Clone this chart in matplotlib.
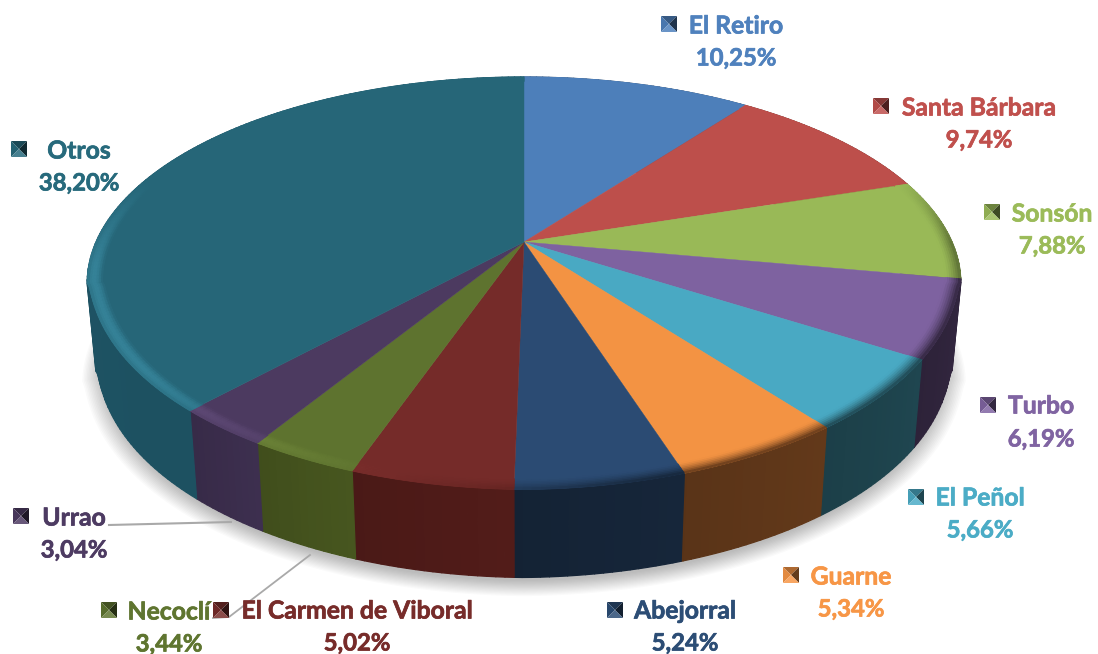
import numpy as np
import matplotlib
matplotlib.use('Agg')
from matplotlib import pyplot as plt
from matplotlib.patches import Polygon
from matplotlib.collections import PolyCollection
from matplotlib.colors import to_rgb
import matplotlib.patheffects as pe

# data
names = ['El Retiro', 'Santa Bárbara', 'Sonsón', 'Turbo', 'El Peñol', 'Guarne',
         'Abejorral', 'El Carmen de Viboral', 'Necoclí', 'Urrao', 'Otros']
shares = [10.25, 9.74, 7.88, 6.19, 5.66, 5.34, 5.24, 5.02, 3.44, 3.04, 38.20]
colors = ['#4f81bd', '#c0504d', '#9bbb59', '#8064a2', '#4bacc6', '#f79646',
          '#2c4d75', '#772c2a', '#5f7530', '#4d3b62', '#276a7c']
top_colors = ['#4d7fba', '#bd4f4b', '#99b957', '#7e62a0', '#49a9c3', '#f39343',
              '#2b4b73', '#752b29', '#5e732f', '#4c3a60', '#266678']
side_colors = ['#2f4c70', '#733029', '#5d7035', '#32263f', '#1f4650', '#63391a',
               '#16263a', '#521c19', '#47561f', '#3d2f4f', '#1f5667']

# label layout: marker centre, text centre x, first line y, second line y
marker_xy = [(669, 24), (881, 106), (992, 212), (988, 405), (916, 497), (791, 575),
             (615, 610), (221, 610), (109, 610), (21, 516), (19, 149)]
text_xy = [(736, 26, 58), (979, 108, 140), (1052, 214, 246), (1041, 406, 439),
           (980, 498, 530), (851, 577, 609), (685, 611, 643), (357, 611, 643),
           (169, 612, 644), (74, 518, 550), (79, 151, 183)]

# perspective of the pie disc
cx, cy = 524, 242
A, B, K = 428, 198, 0.2
depth = 88
low_scale = 0.98


def project(t, r=1.0):
    # t in degrees, clockwise from the top
    t = np.radians(t)
    x = r * np.sin(t)
    y = r * np.cos(t)
    w = 1 + K * y
    # the front corners of the real pie sit a little tighter than a true ellipse
    f = 1 - 0.016 * np.sin(np.pi * np.clip(-(np.cos(t) + 0.2) / 0.8, 0, 1)) ** 0.5
    return A * x / w * f, B * y / w * f


def top_xy(t, r=1.0):
    X, V = project(t, r)
    return cx + X, cy - V


def low_xy(t):
    X, V = project(t)
    return cx + X * low_scale, cy - V + depth


def blend(c1, c2, a):
    c1 = np.array(to_rgb(c1))
    c2 = np.array(to_rgb(c2))
    return tuple(c1 * (1 - a) + c2 * a)


def brighter(c):
    return tuple(np.minimum(1, np.array(to_rgb(c)) * 1.2 + 0.03))


fig = plt.figure(figsize=(10.98, 6.54), dpi=100)
ax = fig.add_axes([0, 0, 1, 1])
ax.set_xlim(0, 1098)
ax.set_ylim(654, 0)
ax.axis('off')

edges = np.concatenate([[0], np.cumsum(shares)]) * 3.6

# soft shadow under the pie
ts = np.linspace(0, 360, 361)
lx, ly = low_xy(ts)
for i in range(14):
    s = 1.032 - i * 0.0035
    sx = cx + (lx - cx) * s
    sy = cy + 8 + (ly - cy) * s
    ax.add_patch(Polygon(np.column_stack([sx, sy]), closed=True, fc='#000000',
                         ec='none', alpha=0.02, zorder=1))

# side walls
for i in range(len(shares)):
    t0, t1 = edges[i], edges[i + 1]
    t = np.arange(t0, t1 + 1.0, 1.0)
    t[-1] = t1
    polys = []
    cols = []
    for a, b in zip(t[:-1], t[1:]):
        xa, ya = top_xy(a)
        xb, yb = top_xy(b)
        xc, yc = low_xy(b)
        xd, yd = low_xy(a)
        polys.append([(xa, ya), (xb, yb), (xc, yc), (xd, yd)])
        # slight darkening toward the end of each slice
        f = (a - t0) / max(t1 - t0, 1)
        cols.append(blend(side_colors[i], '#000000', 0.10 * f if i != 10 else 0.06 * (1 - f)))
    ax.add_collection(PolyCollection(polys, facecolors=cols, edgecolors=cols,
                                     linewidths=0.9, zorder=2))

# top face
for i in range(len(shares)):
    t = np.linspace(edges[i], edges[i + 1], 200)
    x, y = top_xy(t)
    pts = np.column_stack([np.r_[cx, x], np.r_[cy, y]])
    ax.add_patch(Polygon(pts, closed=True, fc=top_colors[i], ec=top_colors[i], lw=0.3, zorder=3))

# bevel along the rim, lit from the lower left
radii = np.linspace(0.966, 1.0, 8)
for i in range(len(shares)):
    t0, t1 = edges[i], edges[i + 1]
    t = np.arange(t0, t1 + 1.0, 1.0)
    t[-1] = t1
    polys = []
    cols = []
    for a, b in zip(t[:-1], t[1:]):
        mid = np.radians((a + b) / 2)
        light = -np.sin(mid - np.radians(15)) * np.clip(0.5 - 1.5 * np.cos(mid), 0, 1)
        for r0, r1 in zip(radii[:-1], radii[1:]):
            p = (r0 + r1) / 2
            k = np.clip((p - radii[0]) / (1 - radii[0]), 0, 1)
            if light > 0:
                c = blend(top_colors[i], brighter(top_colors[i]), min(1, light * 1.6) * np.sin(k * np.pi * 0.85))
            else:
                c = blend(top_colors[i], side_colors[i], min(1, -light * 2.0) * k ** 1.5)
            xa, ya = top_xy(a, r0)
            xb, yb = top_xy(b, r0)
            xc, yc = top_xy(b, r1)
            xd, yd = top_xy(a, r1)
            polys.append([(xa, ya), (xb, yb), (xc, yc), (xd, yd)])
            cols.append(c)
    ax.add_collection(PolyCollection(polys, facecolors=cols, edgecolors=cols,
                                     linewidths=0.7, zorder=4))

# leader lines
ax.plot([109, 231], [525, 522], color='#a9a9a9', lw=1.5, zorder=5)
ax.plot([310, 229, 213], [555, 617, 618], color='#a9a9a9', lw=1.3, zorder=5)

# labels and pyramid legend keys
font = dict(family='Lato', weight='bold', ha='center', va='center', zorder=7)
for i in range(len(shares)):
    mx, my = marker_xy[i]
    h = 8
    c = colors[i]
    ax.add_patch(Polygon([(mx - h, my - h), (mx + h, my - h), (mx, my)], fc=blend(c, '#000000', 0.3), ec='none', zorder=6))
    ax.add_patch(Polygon([(mx - h, my - h), (mx - h, my + h), (mx, my)], fc=blend(c, '#000000', 0.08), ec='none', zorder=6))
    ax.add_patch(Polygon([(mx + h, my - h), (mx + h, my + h), (mx, my)], fc=blend(c, '#000000', 0.6), ec='none', zorder=6))
    ax.add_patch(Polygon([(mx - h, my + h), (mx + h, my + h), (mx, my)], fc=blend(c, '#ffffff', 0.15), ec='none', zorder=6))
    tx, y1, y2 = text_xy[i]
    stroke = [pe.withStroke(linewidth=0.5, foreground=c)]
    ax.text(tx, y1, names[i], color=c, path_effects=stroke, fontsize=17.8, **font)
    ax.text(tx, y2, ('%.2f%%' % shares[i]).replace('.', ','), color=c, path_effects=stroke, fontsize=17.2, **font)

fig.savefig('out.png', dpi=100)
